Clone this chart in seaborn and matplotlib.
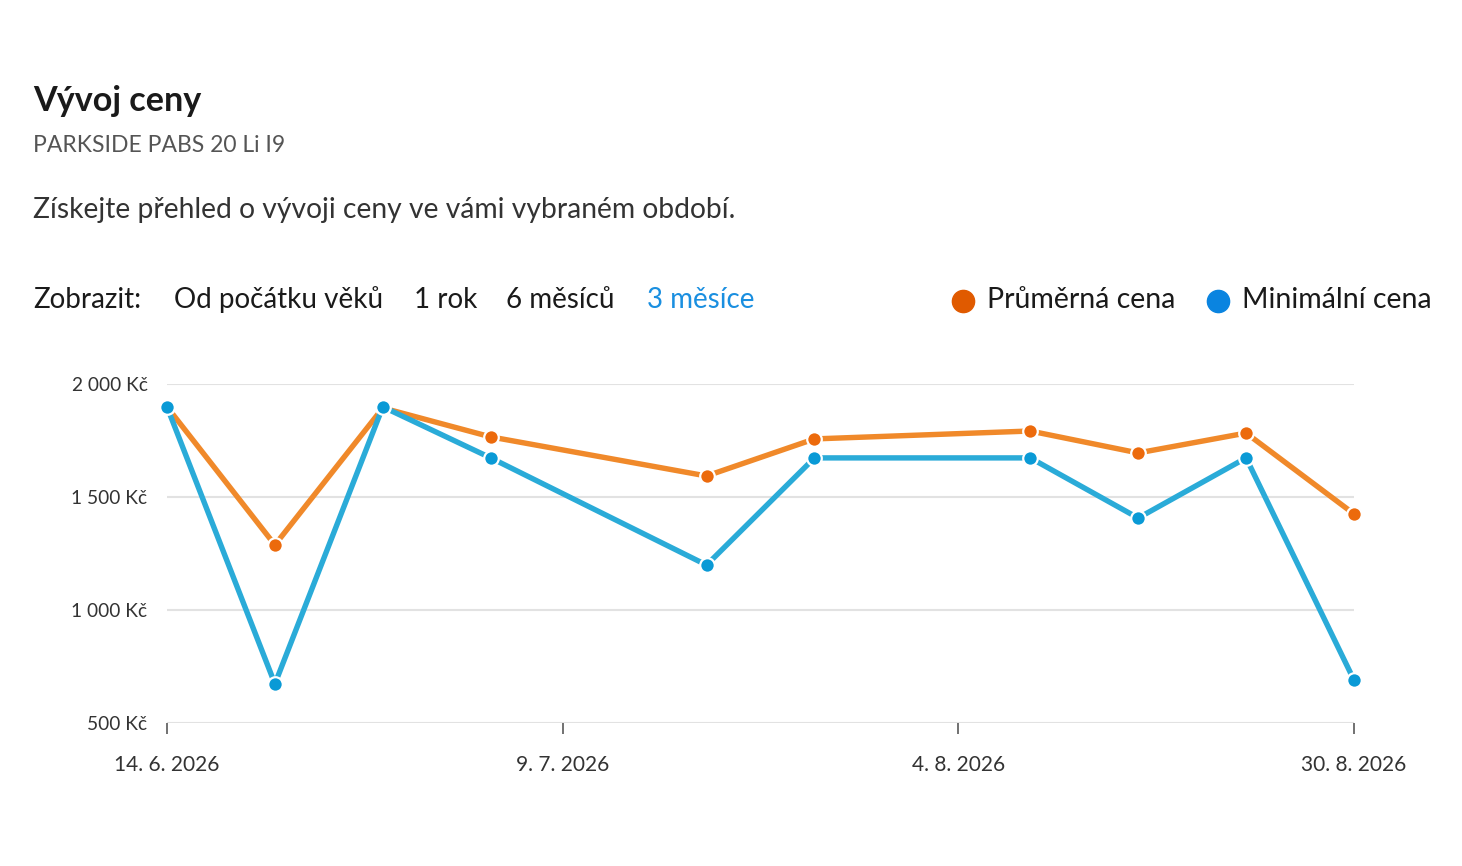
import matplotlib.pyplot as plt
import numpy as np
import pandas as pd
import seaborn as sns
from matplotlib.lines import Line2D

sns.set_theme(style="white")
plt.rcParams["font.family"] = ["Lato", "DejaVu Sans"]

# data (weekly points)
dates = pd.to_datetime([
    "2026-06-14", "2026-06-21", "2026-06-28", "2026-07-05", "2026-07-19",
    "2026-07-26", "2026-08-09", "2026-08-16", "2026-08-23", "2026-08-30",
])
avg_price = [1899, 1288, 1894, 1766, 1593, 1757, 1792, 1695, 1783, 1425]
min_price = [1899, 673, 1899, 1673, 1199, 1673, 1673, 1407, 1673, 690]

y_ticks = [500, 1000, 1500, 2000]
y_labels = ["500 Kč", "1 000 Kč", "1 500 Kč", "2 000 Kč"]
x_labels = ["14. 6. 2026", "9. 7. 2026", "4. 8. 2026", "30. 8. 2026"]
periods = ["Od počátku věků", "1 rok", "6 měsíců", "3 měsíce"]
series_names = ["Průměrná cena", "Minimální cena"]

df = pd.DataFrame({"date": dates, "avg": avg_price, "min": min_price})

W, H = 1462, 866
fig = plt.figure(figsize=(W / 100, H / 100), dpi=100)
ax = fig.add_axes([167 / W, 143 / H, 1187 / W, 339 / H])

sns.lineplot(data=df, x="date", y="avg", ax=ax, color="#F0892A", linewidth=3.9,
             marker="o", markersize=10.5, markerfacecolor="#EC6A0C",
             markeredgecolor="white", markeredgewidth=1.6, clip_on=False, zorder=3)
sns.lineplot(data=df, x="date", y="min", ax=ax, color="#2AABD8", linewidth=3.9,
             marker="o", markersize=10.5, markerfacecolor="#0A9AD6",
             markeredgecolor="white", markeredgewidth=1.6, clip_on=False, zorder=4)

ax.set_xlim(dates[0], dates[-1])
ax.set_ylim(500, 2000)
ax.set_yticks(y_ticks)
ax.set_yticklabels(y_labels)
xt = pd.date_range(dates[0], dates[-1], periods=4)
ax.set_xticks(xt)
ax.set_xticklabels(x_labels)
ax.set_xlabel("")
ax.set_ylabel("")
for s in ax.spines.values():
    s.set_visible(False)
ax.grid(axis="y", color="#E2E2E2", linewidth=1.5)
ax.grid(axis="x", visible=False)
ax.tick_params(axis="y", length=0, pad=14, labelsize=13.8, labelcolor="#333333")
ax.tick_params(axis="x", length=8, width=1.3, color="#666666", pad=15,
               labelsize=15, labelcolor="#333333", bottom=True, direction="out")

# header texts
fig.text(33 / W, 1 - 101 / H, "Vývoj ceny", fontsize=24.6, fontweight="bold",
         color="#1A1A1A", va="center")
fig.text(33 / W, 1 - 145 / H, "PARKSIDE PABS 20 Li I9", fontsize=16.5,
         color="#555555", va="center")
fig.text(33 / W, 1 - 210 / H, "Získejte přehled o vývoji ceny ve vámi vybraném období.",
         fontsize=20.3, color="#333333", va="center")

fig.text(33 / W, 1 - 300 / H, "Zobrazit:", fontsize=20, color="#1A1A1A", va="center")
for xp, label in zip([174, 414, 506, 647], periods):
    col = "#1A8FE0" if label == "3 měsíce" else "#1A1A1A"
    fig.text(xp / W, 1 - 300 / H, label, fontsize=20, color=col, va="center")

# legend, drawn by hand so the spacing matches
for xp, name, col in zip([963, 1218], series_names, ["#E05A00", "#0A84E0"]):
    fig.add_artist(Line2D([xp / W], [1 - 301 / H], transform=fig.transFigure,
                          linestyle="none", marker="o", markersize=16, color=col))
    fig.text((xp + 24) / W, 1 - 300 / H, name, fontsize=20.5, color="#1A1A1A",
             va="center")

fig.savefig("out.png", dpi=100)
